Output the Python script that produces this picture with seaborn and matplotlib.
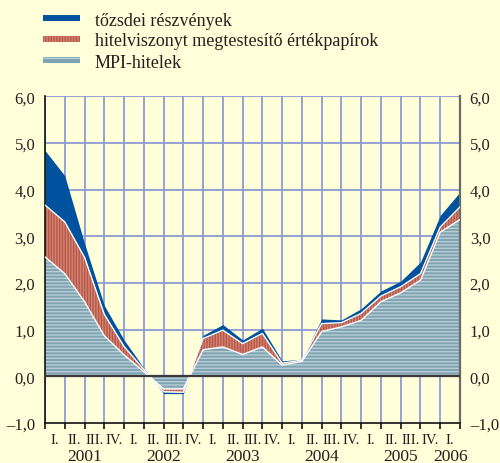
import numpy as np
import pandas as pd
import matplotlib
matplotlib.use("Agg")
import matplotlib.pyplot as plt
import matplotlib.transforms as mtransforms
from matplotlib.patches import Rectangle
import seaborn as sns

# Adatok (negyedéves, a pontok a rácsvonalakon)
mpi_hitelek = [2.56, 2.20, 1.60, 0.87, 0.46, 0.10, -0.27, -0.27, 0.57, 0.63, 0.47,
               0.63, 0.24, 0.32, 0.96, 1.06, 1.20, 1.60, 1.79, 2.06, 3.09, 3.36]
hitelpapirok = [1.11, 1.11, 0.95, 0.46, 0.18, 0.05, -0.06, -0.07, 0.24, 0.36, 0.23,
                0.29, 0.04, 0.03, 0.17, 0.09, 0.15, 0.12, 0.13, 0.14, 0.11, 0.27]
reszvenyek = [1.17, 0.99, 0.30, 0.19, 0.14, 0.03, -0.04, -0.03, 0.07, 0.12, 0.08,
              0.11, 0.05, 0.02, 0.10, 0.06, 0.10, 0.11, 0.12, 0.25, 0.25, 0.32]
negyedevek = ["I.", "II.", "III.", "IV."] * 5 + ["I."]
evek = ["2001", "2002", "2003", "2004", "2005", "2006"]
cimkek = ["tőzsdei részvények", "hitelviszonyt megtestesítő értékpapírok", "MPI-hitelek"]

hatter = "#FFFFD9"
racs = "#8E9BD3"
kek = "#00519E"
piros = "#D4836F"
piros_csik = "#B5574C"
szurke = "#7FA3B0"
szurke_csik = "#B8CDD5"
szoveg = "#231F20"

sns.set_theme(style="white")
plt.rcParams["font.family"] = ["Liberation Serif", "DejaVu Serif"]
plt.rcParams["hatch.linewidth"] = 1.0

x = np.arange(len(mpi_hitelek))
s1 = np.array(mpi_hitelek)
s2 = s1 + np.array(hitelpapirok)
s3 = s2 + np.array(reszvenyek)

W, H = 500, 464
fig = plt.figure(figsize=(W / 100, H / 100), dpi=100, facecolor=hatter)
ax = fig.add_axes([0.09, 0.0862, 0.83, 0.704])
ax.set_facecolor(hatter)
ax.set_xlim(0, 21)
ax.set_ylim(-1, 6)

# rácsvonalak
for i in range(22):
    ax.axvline(i, color=racs, lw=1.3, zorder=1)
for v in range(1, 7):
    ax.axhline(v, color=racs, lw=1.3, zorder=1)

# területek
ax.fill_between(x, 0, s1, facecolor=szurke, edgecolor=szurke_csik, hatch="-----", lw=0, zorder=2)
ax.fill_between(x, s1, s2, facecolor=piros, edgecolor=piros_csik, hatch="||||||", lw=0, zorder=2)
ax.fill_between(x, s2, s3, facecolor=kek, edgecolor=kek, lw=0, zorder=2)

# fehér elválasztó vonalak
hatarok = pd.DataFrame({"x": np.concatenate([x, x]),
                        "y": np.concatenate([s1, s2]),
                        "sor": ["mpi"] * len(x) + ["hitel"] * len(x)})
sns.lineplot(data=hatarok, x="x", y="y", units="sor", estimator=None,
             color="white", lw=1.0, ax=ax, zorder=3, legend=False)

ax.axhline(0, color="#3A3A3A", lw=1.6, zorder=4)

# tengelyek
ax.spines["top"].set_visible(False)
ax.spines["left"].set_color("#111111")
ax.spines["left"].set_linewidth(1.2)
ax.spines["right"].set_color("#6A6A6A")
ax.spines["right"].set_linewidth(1.6)
ax.spines["bottom"].set_color("#111111")
ax.spines["bottom"].set_linewidth(1.2)
ax.set_xlabel("")
ax.set_ylabel("")

yt = list(range(-1, 7))
ax.set_yticks(yt)
ax.set_yticklabels([("\u2013" if v < 0 else "") + f"{abs(v)},0" for v in yt])
ax.tick_params(axis="y", length=0, labelsize=12, labelcolor=szoveg,
               left=False, right=False, labelleft=True, labelright=True, pad=7)

ax.set_xticks(range(22))
ax.set_xticklabels([])
ax.set_xticks(np.arange(21) + 0.5, minor=True)
ax.set_xticklabels(negyedevek, minor=True)
ax.tick_params(axis="x", which="major", direction="out", length=4, width=1.2, color="#111111", bottom=True)
ax.tick_params(axis="x", which="minor", length=0, labelsize=10.5, labelcolor=szoveg, pad=7)

trans = mtransforms.blended_transform_factory(ax.transData, fig.transFigure)
ev_kozep = [2, 6, 10, 14, 18, 20.5]
for ev, kx in zip(evek, ev_kozep):
    ax.text(kx, 1 - 461 / H, ev, transform=trans, ha="center", va="baseline",
            fontsize=12.5, color=szoveg, clip_on=False)

# jelmagyarázat (kézzel, vékony sávokkal)
stilusok = [dict(facecolor=kek, edgecolor=kek),
            dict(facecolor=piros, edgecolor=piros_csik, hatch="||||||"),
            dict(facecolor=szurke, edgecolor=szurke_csik, hatch="---")]
sorok_y = [19, 40, 61]
for cimke, st, yp in zip(cimkek, stilusok, sorok_y):
    fig.patches.append(Rectangle((43 / W, 1 - (yp + 3) / H), 37 / W, 6 / H, lw=0,
                                 transform=fig.transFigure, figure=fig, **st))
    fig.text(95 / W, 1 - yp / H, cimke, ha="left", va="center_baseline",
             fontsize=13, color=szoveg)

fig.savefig("out.png", dpi=100, facecolor=hatter)
